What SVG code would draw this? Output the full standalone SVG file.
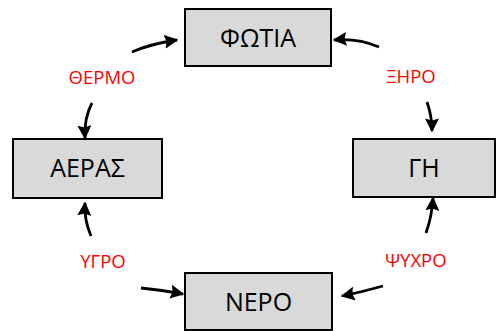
<svg xmlns="http://www.w3.org/2000/svg" width="498" height="331" viewBox="0 0 498 331">
  <defs>
    <marker id="head" viewBox="0 0 10 10" refX="9" refY="5" markerWidth="5" markerHeight="5" orient="auto" markerUnits="strokeWidth">
      <path d="M0,0 L10,5 L0,10 L1.5,5 Z" fill="#000"/>
    </marker>
  </defs>
  <style>
    .box { fill: #d9d9d9; stroke: #000; stroke-width: 2; }
    .name { font-family: "Open Sans", "Noto Sans", sans-serif; font-size: 25px; fill: #000; text-anchor: middle; }
    .quality { font-family: "Open Sans", "Noto Sans", sans-serif; font-size: 18.5px; fill: #ff0000; text-anchor: middle; }
    .link { fill: none; stroke: #000; stroke-width: 2.8; marker-end: url(#head); }
  </style>
  <rect width="498" height="331" fill="#fff"/>

  <g id="fotia">
    <rect class="box" x="185" y="9" width="146" height="57"/>
    <text class="name" x="258" y="47">ΦΩΤΙΑ</text>
  </g>
  <g id="aeras">
    <rect class="box" x="13" y="139" width="149" height="59"/>
    <text class="name" x="87.5" y="177">ΑΕΡΑΣ</text>
  </g>
  <g id="gi">
    <rect class="box" x="353" y="139" width="142" height="58"/>
    <text class="name" x="424" y="177">ΓΗ</text>
  </g>
  <g id="nero">
    <rect class="box" x="185" y="273" width="147" height="57"/>
    <text class="name" x="258.5" y="311">ΝΕΡΟ</text>
  </g>

  <g id="labels">
    <text class="quality" x="102" y="84">ΘΕΡΜΟ</text>
    <text class="quality" x="411" y="83">ΞΗΡΟ</text>
    <text class="quality" x="103" y="268">ΥΓΡΟ</text>
    <text class="quality" x="416" y="267">ΨΥΧΡΟ</text>
  </g>

  <g id="connectors">
    <path class="link" d="M132,52 Q150,44 177,40"/>
    <path class="link" d="M379,47 Q358,38 334,40"/>
    <path class="link" d="M92,103 Q84,118 85,138"/>
    <path class="link" d="M427,102 Q432,116 432,131"/>
    <path class="link" d="M426,233 Q432,216 433,198"/>
    <path class="link" d="M383,286 Q362,292 342,296"/>
    <path class="link" d="M91,236 Q84,220 85,203"/>
    <path class="link" d="M141,288 Q162,290 183,294"/>
  </g>
</svg>
